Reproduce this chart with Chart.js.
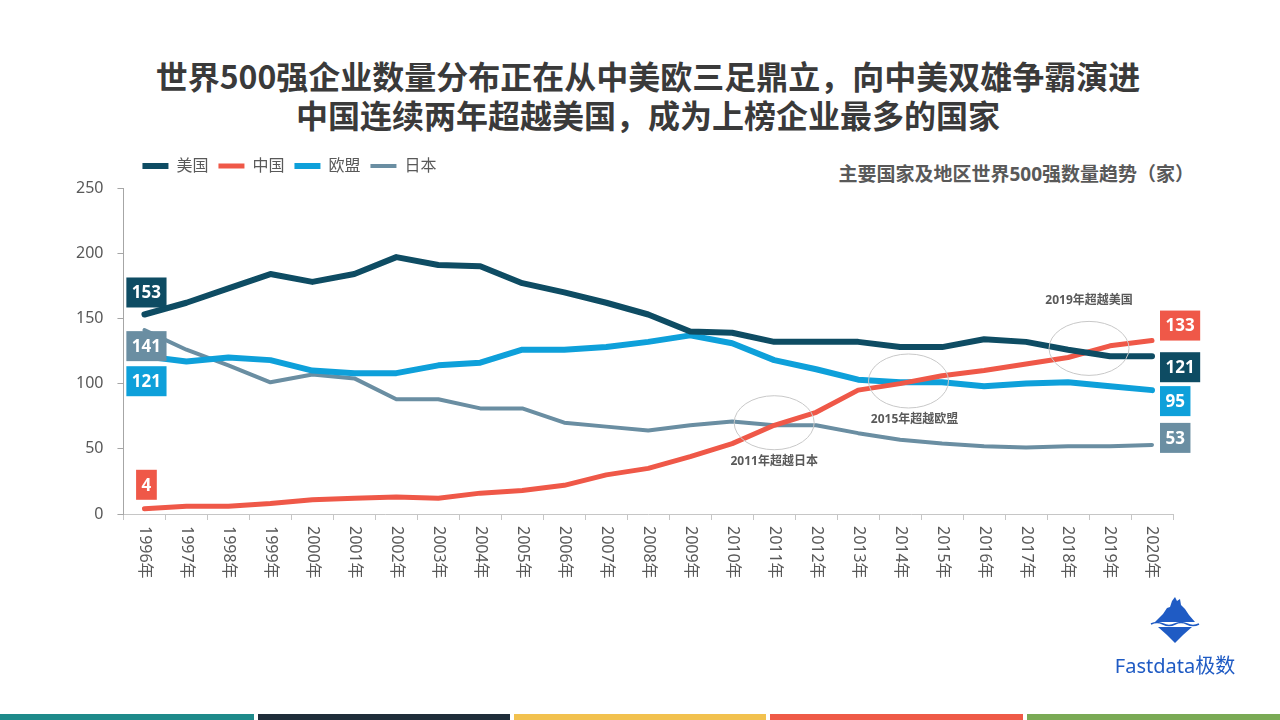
<!DOCTYPE html>
<html>
<head>
<meta charset="utf-8">
<script src="https://cdn.jsdelivr.net/npm/chart.js@4.4.1/dist/chart.umd.min.js"></script>
<style>
  html, body { margin: 0; padding: 0; background: #fff; }
  body { width: 1280px; height: 720px; position: relative; overflow: hidden;
         font-family: "Noto Sans", "Noto Sans CJK SC", sans-serif; }
  #title { position: absolute; left: 8px; top: 56px; width: 1280px; text-align: center;
           font-family: "Noto Sans CJK SC", sans-serif; font-weight: bold; font-size: 32px;
           line-height: 39px; color: #3a3a3a; }
  #subtitle { position: absolute; right: 86px; top: 159px; font-weight: bold; font-size: 19px;
              color: #595959; font-family: "Noto Sans", "Noto Sans CJK SC", sans-serif; }
  #chart { position: absolute; left: 0; top: 0; }
  #logo { position: absolute; left: 1095px; top: 595px; width: 160px; text-align: center; }
  #logo .name { font-size: 20px; color: #1f5bc4; margin-top: 0px; }
  .bars { position: absolute; left: 0; bottom: 0; width: 1280px; height: 6px; }
  .bars div { position: absolute; top: 0; height: 6px; }
</style>
</head>
<body>
<div id="title">世界500强企业数量分布正在从中美欧三足鼎立，向中美双雄争霸演进<br>中国连续两年超越美国，成为上榜企业最多的国家</div>
<div id="subtitle">主要国家及地区世界500强数量趋势（家）</div>
<canvas id="chart" width="1280" height="720"></canvas>
<div id="logo">
  <svg width="60" height="50" viewBox="0 0 60 50">
    <polygon points="10,27 18,19 22,13 25,12 27,6 30,2 32,6 35,4 36,10 40,14 44,20 50,27" fill="#1f5bc4"/>
    <path d="M6,29 Q12,26 18,29 T30,29 T42,29 T54,29" stroke="#1f5bc4" stroke-width="1.5" fill="none"/>
    <polygon points="13,32 47,32 38,40 30,48 22,40" fill="#1f5bc4"/>
  </svg>
  <div class="name">Fastdata极数</div>
</div>
<div class="bars">
  <div style="left:0;width:254px;background:#1e8a8a"></div>
  <div style="left:258px;width:252px;background:#1f2d3a"></div>
  <div style="left:514px;width:252px;background:#f2c14e"></div>
  <div style="left:770px;width:253px;background:#ef5a47"></div>
  <div style="left:1027px;width:253px;background:#7aaa55"></div>
</div>
<script>
// categories
const years = ['1996年', '1997年', '1998年', '1999年', '2000年', '2001年', '2002年', '2003年', '2004年',
    '2005年', '2006年', '2007年', '2008年', '2009年', '2010年', '2011年', '2012年', '2013年', '2014年',
    '2015年', '2016年', '2017年', '2018年', '2019年', '2020年'];

// number of Fortune Global 500 companies
const usData = [153, 162, 173, 184, 178, 184, 197, 191, 190, 177, 170, 162, 153, 140, 139, 132, 132, 132, 128, 128, 134, 132, 126, 121, 121];
const cnData = [4, 6, 6, 8, 11, 12, 13, 12, 16, 18, 22, 30, 35, 44, 54, 68, 78, 95, 100, 106, 110, 115, 120, 129, 133];
const euData = [121, 117, 120, 118, 110, 108, 108, 114, 116, 126, 126, 128, 132, 137, 131, 118, 111, 103, 101, 101, 98, 100, 101, 98, 95];
const jpData = [141, 126, 114, 101, 107, 104, 88, 88, 81, 81, 70, 67, 64, 68, 71, 68, 68, 62, 57, 54, 52, 51, 52, 52, 53];

// y axis ticks
const yTicks = [0, 50, 100, 150, 200, 250];

// notes on the crossing points: [category index, value, text]
const notes = [
    [15, 70, '2011年超越日本'],
    [18.2, 102, '2015年超越欧盟'],
    [22.5, 127, '2019年超越美国']
];

const FONT = '"Noto Sans", "Noto Sans CJK SC", sans-serif';
const GRAY = '#595959';

// offsets of the value boxes at the start / end of each line (px)
const boxOffsets = [
    { start: -22, end: 11 },   // 美国
    { start: -24, end: -15 },  // 中国
    { start: 25, end: 11 },    // 欧盟
    { start: 16, end: -7 }     // 日本
];

const valueBoxes = {
    id: 'valueBoxes',
    afterDatasetsDraw(chart) {
        const ctx = chart.ctx;
        ctx.save();
        ctx.font = 'bold 17px ' + FONT;
        ctx.textBaseline = 'middle';
        ctx.textAlign = 'center';
        chart.data.datasets.forEach((ds, i) => {
            const meta = chart.getDatasetMeta(i);
            const first = meta.data[0];
            const last = meta.data[meta.data.length - 1];
            const draw = (txt, left, cy, center) => {
                const w = ctx.measureText(txt).width + 11;
                const x0 = center ? left - w / 2 : left;
                ctx.fillStyle = ds.borderColor;
                ctx.fillRect(x0, cy - 15, w, 30);
                ctx.fillStyle = '#fff';
                ctx.fillText(txt, x0 + w / 2, cy + 1);
            };
            draw(String(ds.data[0]), first.x + 2, first.y + boxOffsets[i].start, true);
            draw(String(ds.data[ds.data.length - 1]), last.x + 8, last.y + boxOffsets[i].end, false);
        });
        ctx.restore();
    }
};

const notesPlugin = {
    id: 'notes',
    afterDatasetsDraw(chart) {
        const ctx = chart.ctx;
        const x = chart.scales.x, y = chart.scales.y;
        ctx.save();
        ctx.font = 'bold 12px ' + FONT;
        ctx.textAlign = 'center';
        ctx.textBaseline = 'middle';
        notes.forEach(([idx, val, txt], k) => {
            const cx = x.getPixelForValue(idx);
            const cy = y.getPixelForValue(val);
            ctx.strokeStyle = '#c8c8c8';
            ctx.lineWidth = 1;
            ctx.beginPath();
            ctx.ellipse(cx, cy, 40, 27, 0, 0, Math.PI * 2);
            ctx.stroke();
            ctx.fillStyle = GRAY;
            const ty = k === 2 ? cy - 48 : cy + 39;
            ctx.fillText(txt, cx + (k === 1 ? 6 : 0), ty);
        });
        ctx.restore();
    }
};

// x labels run top to bottom, which the category axis can't do itself
const xLabels = {
    id: 'xLabels',
    afterDraw(chart) {
        const ctx = chart.ctx;
        const x = chart.scales.x;
        ctx.save();
        ctx.font = '16px ' + FONT;
        ctx.fillStyle = GRAY;
        ctx.textAlign = 'left';
        ctx.textBaseline = 'middle';
        years.forEach((lab, i) => {
            ctx.save();
            ctx.translate(x.getPixelForValue(i), x.top + 12);
            ctx.rotate(Math.PI / 2);
            ctx.fillText(lab, 0, 0);
            ctx.restore();
        });
        ctx.restore();
    }
};

// nudge the legend a bit right and up, like the original slide
const legendShift = {
    id: 'legendShift',
    afterLayout(chart) {
        chart.legend.left += 9;
        chart.legend.right += 9;
        chart.legend.top -= 4;
        chart.legend.bottom -= 4;
    }
};

new Chart(document.getElementById('chart').getContext('2d'), {
    type: 'line',
    data: {
        labels: years,
        datasets: [
            { label: '美国', data: usData, borderColor: '#0e4c63', borderWidth: 6 },
            { label: '中国', data: cnData, borderColor: '#ef5848', borderWidth: 5 },
            { label: '欧盟', data: euData, borderColor: '#0ea0da', borderWidth: 6 },
            { label: '日本', data: jpData, borderColor: '#6a8ea2', borderWidth: 4 }
        ].map(d => Object.assign(d, {
            backgroundColor: d.borderColor,
            pointRadius: 0,
            tension: 0,
            borderCapStyle: 'round',
            borderJoinStyle: 'round',
            fill: false
        }))
    },
    options: {
        responsive: false,
        animation: false,
        layout: { padding: { left: 62, right: 107, top: 152, bottom: 200 } },
        plugins: {
            tooltip: { enabled: false },
            legend: {
                position: 'top',
                align: 'start',
                fullSize: false,
                labels: {
                    usePointStyle: true,
                    pointStyle: 'line',
                    pointStyleWidth: 26,
                    padding: 10,
                    color: GRAY,
                    font: { size: 16, family: FONT }
                }
            }
        },
        scales: {
            x: {
                offset: true,
                grid: { offset: true, drawOnChartArea: false, tickLength: 6, color: '#c6c6c6' },
                border: { color: '#c6c6c6' },
                ticks: { display: false }
            },
            y: {
                min: 0,
                max: 250,
                afterBuildTicks: s => { s.ticks = yTicks.map(v => ({ value: v })); },
                grid: { drawOnChartArea: false, tickLength: 6, color: '#a6a6a6' },
                border: { color: '#a6a6a6' },
                ticks: { padding: 14, color: GRAY, font: { size: 16, family: FONT } }
            }
        }
    },
    plugins: [valueBoxes, notesPlugin, xLabels, legendShift]
});
</script>
</body>
</html>
